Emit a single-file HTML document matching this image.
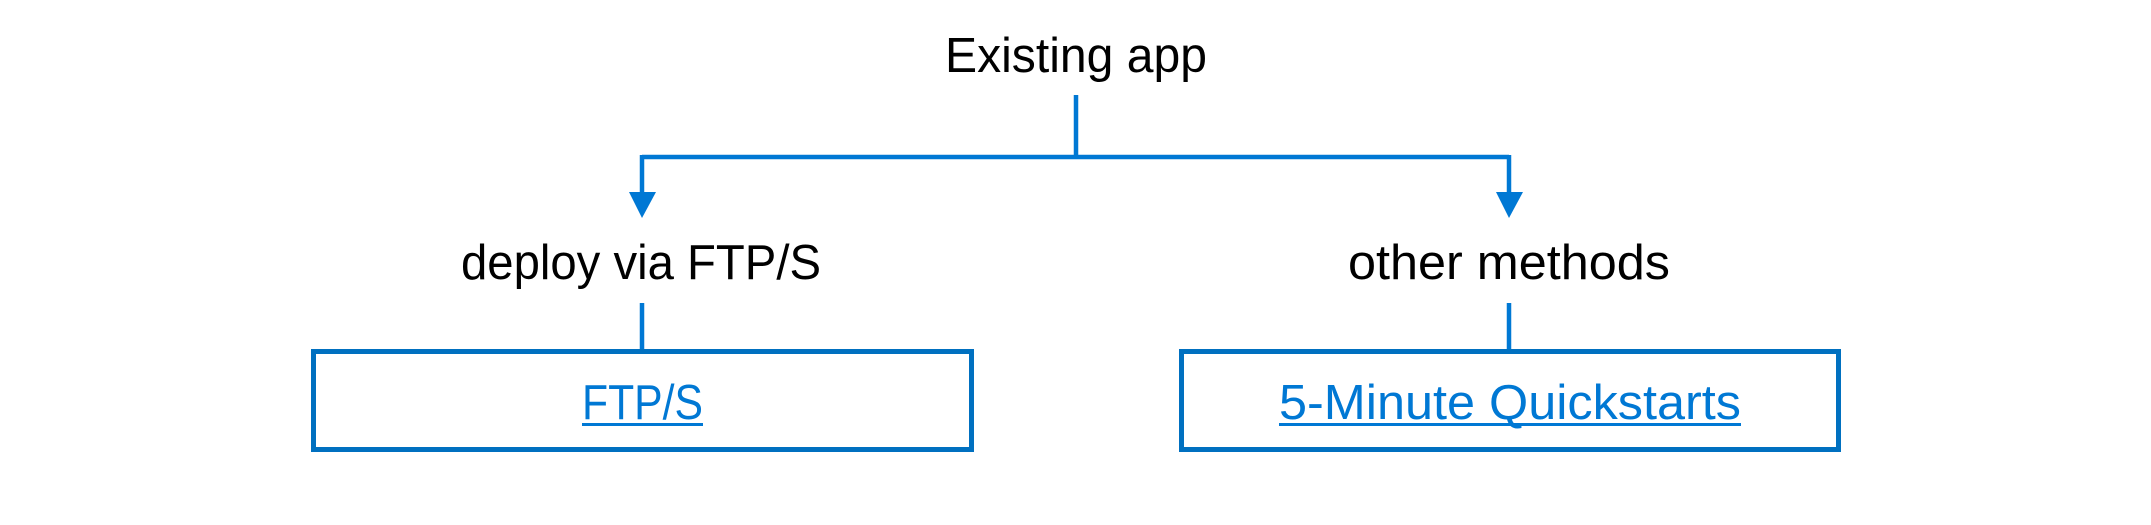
<!DOCTYPE html>
<html><head><meta charset="utf-8"><style>
html,body{margin:0;padding:0;background:#fff;width:2151px;height:525px;overflow:hidden}
svg{display:block}
text{font-family:"Liberation Sans",sans-serif;font-size:49px}
</style></head><body>
<svg width="2151" height="525" viewBox="0 0 2151 525" xmlns="http://www.w3.org/2000/svg">
<g stroke="#0078d4" stroke-width="4.5" fill="none">
<line x1="1076" y1="95" x2="1076" y2="157"/>
<line x1="642" y1="157" x2="1509" y2="157"/>
<line x1="642" y1="155" x2="642" y2="195"/>
<line x1="1509" y1="155" x2="1509" y2="195"/>
<line x1="642" y1="303" x2="642" y2="350"/>
<line x1="1509" y1="303" x2="1509" y2="350"/>
</g>
<polygon points="629,192 656,192 642,218" fill="#0078d4"/>
<polygon points="1496,192 1523,192 1509,218" fill="#0078d4"/>
<rect x="313.5" y="351.5" width="658" height="98" fill="none" stroke="#0070c0" stroke-width="5"/>
<rect x="1181.5" y="351.5" width="657" height="98" fill="none" stroke="#0070c0" stroke-width="5"/>
<text x="945" y="72" textLength="262" lengthAdjust="spacingAndGlyphs" fill="#000">Existing app</text>
<text x="461" y="279" textLength="360" lengthAdjust="spacingAndGlyphs" fill="#000">deploy via FTP/S</text>
<text x="1348" y="279" textLength="322" lengthAdjust="spacingAndGlyphs" fill="#000">other methods</text>
<text x="582" y="419" textLength="121" lengthAdjust="spacingAndGlyphs" fill="#0078d4">FTP/S</text>
<text x="1279" y="419" textLength="462" lengthAdjust="spacingAndGlyphs" fill="#0078d4">5-Minute Quickstarts</text>
<rect x="582" y="423" width="121" height="3" fill="#0078d4"/>
<rect x="1279" y="423" width="462" height="3" fill="#0078d4"/>
</svg>
</body></html>
